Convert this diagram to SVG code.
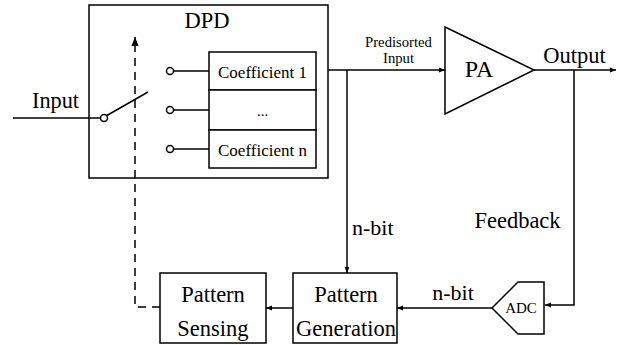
<svg xmlns="http://www.w3.org/2000/svg" width="626" height="345" viewBox="0 0 626 345">
<defs>
<style>
.ln{stroke:#000;stroke-width:1.5;fill:none}
.bx{stroke:#000;stroke-width:1.5;fill:#fff}
text{font-family:'Liberation Serif','DejaVu Serif',serif;fill:#000}
.dash{stroke:#000;stroke-width:1.5;fill:none;stroke-dasharray:8,6}
</style>
<marker id="ar" viewBox="0 0 10 10" refX="10" refY="5" markerWidth="6" markerHeight="6" orient="auto" markerUnits="userSpaceOnUse"><path d="M0,1 L10,5 L0,9 z" fill="#000"/></marker>
<marker id="ar2" viewBox="0 0 10 10" refX="10" refY="5" markerWidth="9" markerHeight="9" orient="auto" markerUnits="userSpaceOnUse"><path d="M0,1 L10,5 L0,9 z" fill="#000"/></marker>
</defs>
<rect width="626" height="345" fill="#fff"/>
<g id="connectors">
<line class="ln" x1="13" y1="118" x2="101" y2="118"/>
<line class="ln" x1="106" y1="116" x2="148" y2="92"/>
<line class="ln" x1="173" y1="71" x2="209" y2="71"/>
<line class="ln" x1="173" y1="110" x2="209" y2="110"/>
<line class="ln" x1="173" y1="149" x2="209" y2="149"/>
<line class="ln" x1="328" y1="70" x2="445" y2="70" marker-end="url(#ar)"/>
<line class="ln" x1="347" y1="70" x2="347" y2="273" marker-end="url(#ar)"/>
<line class="ln" x1="534" y1="70" x2="616" y2="70" marker-end="url(#ar)"/>
<polyline class="ln" points="574,70 574,305 545,305" marker-end="url(#ar)"/>
<line class="ln" x1="492" y1="308" x2="397" y2="308" marker-end="url(#ar)"/>
<line class="ln" x1="293" y1="308" x2="266" y2="308" marker-end="url(#ar)"/>
<polyline class="dash" points="160,307 135,307 135,42"/>
<line class="ln" x1="135" y1="44" x2="135" y2="37" marker-end="url(#ar2)"/>
<text x="398.5" y="47" font-size="14.7" text-anchor="middle">Predisorted</text>
<text x="398.5" y="63" font-size="14.7" text-anchor="middle">Input</text>
<text x="574.5" y="63" font-size="22.5" text-anchor="middle">Output</text>
<text x="517.5" y="228" font-size="22.5" text-anchor="middle">Feedback</text>
<text x="453" y="300" font-size="22" text-anchor="middle">n-bit</text>
<text x="352" y="235" font-size="22">n-bit</text>
<text x="55.5" y="108" font-size="22.3" text-anchor="middle">Input</text>
</g>
<g id="dpd">
<rect class="ln" x="89" y="5" width="239" height="173"/>
<text x="207" y="28" font-size="22.5" text-anchor="middle">DPD</text>
<circle class="bx" cx="104" cy="118" r="3.5"/>
<circle class="bx" cx="170" cy="71" r="3.5"/>
<circle class="bx" cx="170" cy="110" r="3.5"/>
<circle class="bx" cx="170" cy="149" r="3.5"/>
</g>
<g id="coef1">
<rect class="bx" x="209" y="52" width="107" height="38"/>
<text x="262.5" y="78" font-size="17" text-anchor="middle">Coefficient 1</text>
</g>
<g id="coefdots">
<rect class="bx" x="209" y="90" width="107" height="40"/>
<text x="262.5" y="116" font-size="15" text-anchor="middle">...</text>
</g>
<g id="coefn">
<rect class="bx" x="209" y="130" width="107" height="38"/>
<text x="262.5" y="156" font-size="17" text-anchor="middle">Coefficient n</text>
</g>
<g id="pa">
<polygon class="bx" points="445,27 534,70 445,114"/>
<text x="479" y="77" font-size="24" text-anchor="middle">PA</text>
</g>
<g id="adc">
<polygon class="bx" points="544,282 518,282 492,308 518,334 544,334"/>
<text x="521" y="313" font-size="15" text-anchor="middle">ADC</text>
</g>
<g id="pattern-generation">
<rect class="bx" x="293" y="273" width="104" height="70"/>
<text x="346" y="302" font-size="22.5" text-anchor="middle">Pattern</text>
<text x="346" y="336" font-size="22.5" text-anchor="middle">Generation</text>
</g>
<g id="pattern-sensing">
<rect class="bx" x="160" y="273" width="106" height="70"/>
<text x="213" y="302" font-size="22.5" text-anchor="middle">Pattern</text>
<text x="213" y="336" font-size="22.5" text-anchor="middle">Sensing</text>
</g>
</svg>
